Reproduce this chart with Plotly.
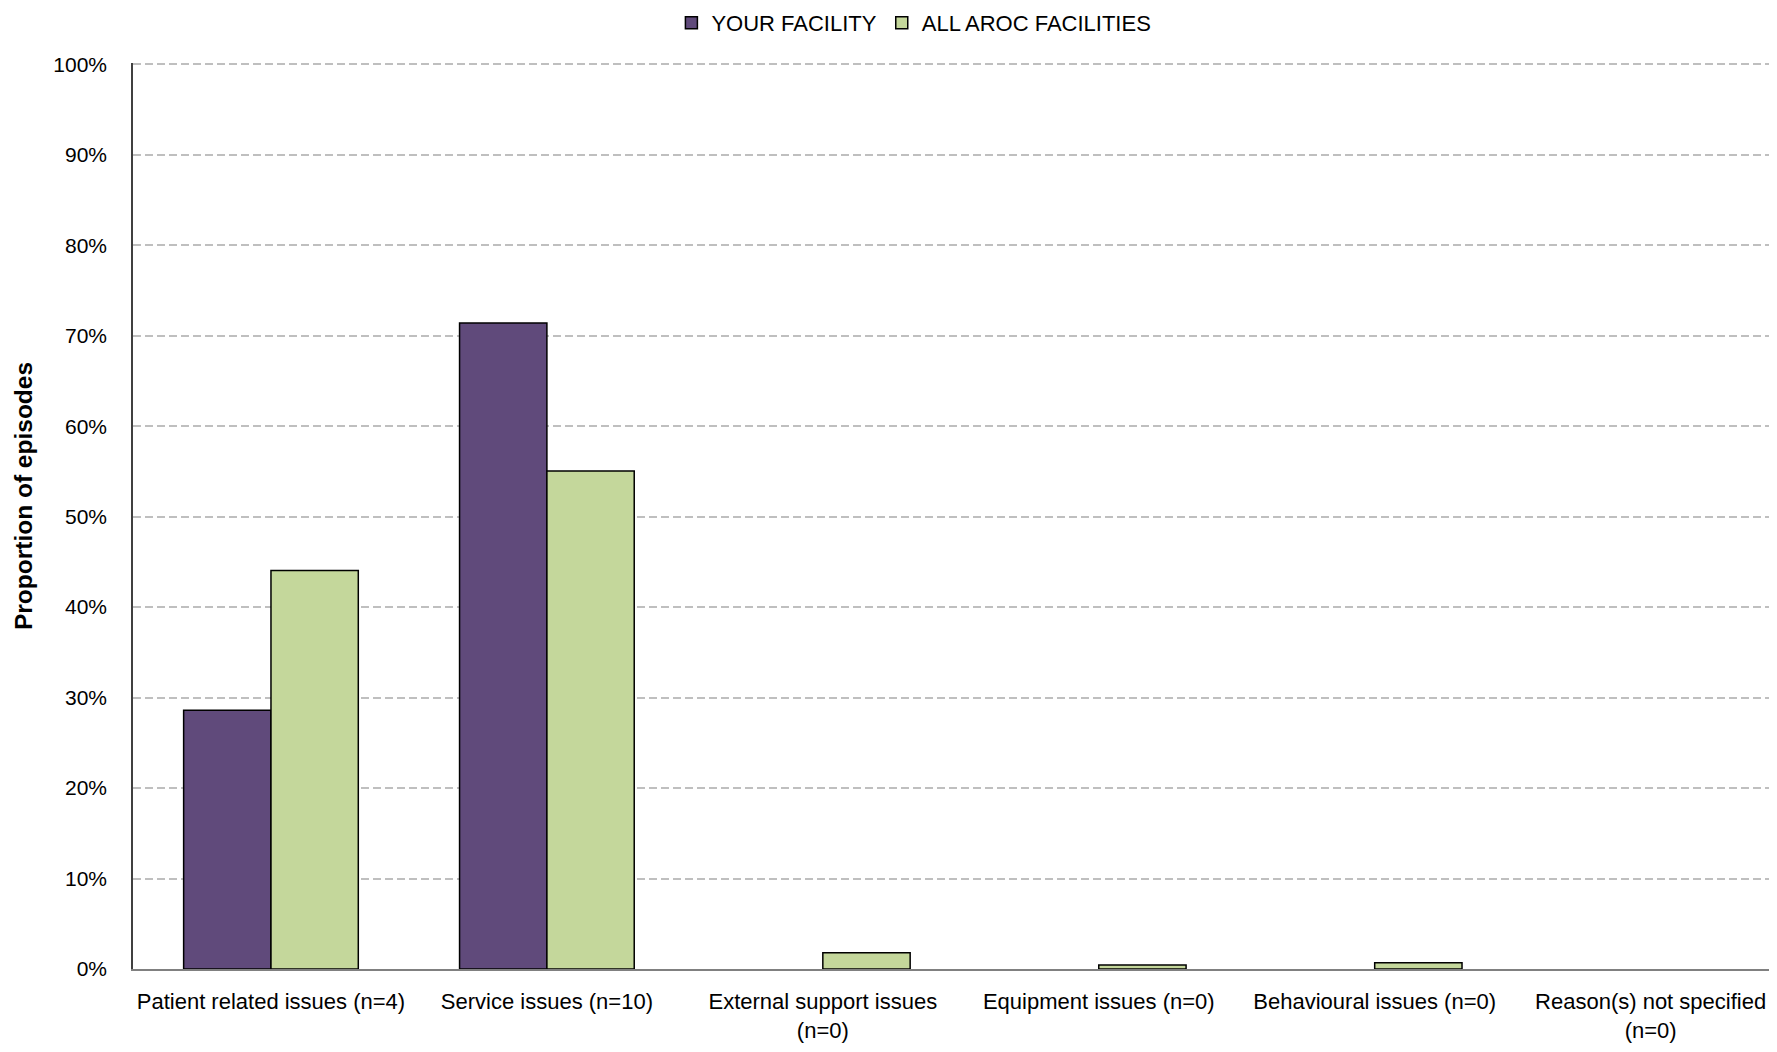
import plotly.graph_objects as go

categories = [
    "Patient related issues (n=4)",
    "Service issues (n=10)",
    "External support issues<br>(n=0)",
    "Equipment issues (n=0)",
    "Behavioural issues (n=0)",
    "Reason(s) not specified<br>(n=0)",
]
your_facility = [28.6, 71.4, 0.0, 0.0, 0.0, 0.0]
all_aroc = [44.05, 55.05, 1.8, 0.45, 0.7, 0.0]
y_ticks = [0, 10, 20, 30, 40, 50, 60, 70, 80, 90, 100]
y_tick_labels = [f"{t}%" for t in y_ticks]

FONT = "Liberation Sans Narrow, Arial Narrow, Liberation Sans, Arial"


def outline_widths(values):
    return [1.5 if v > 0 else 0 for v in values]


fig = go.Figure()
fig.add_trace(go.Bar(
    name="YOUR FACILITY", x=categories, y=your_facility,
    marker=dict(color="#604A7B", line=dict(color="#000000", width=outline_widths(your_facility))),
))
fig.add_trace(go.Bar(
    name="ALL AROC FACILITIES", x=categories, y=all_aroc,
    marker=dict(color="#C4D79B", line=dict(color="#000000", width=outline_widths(all_aroc))),
))

fig.update_layout(
    width=1769, height=1044,
    margin=dict(l=125, r=0, t=55, b=83),
    paper_bgcolor="white", plot_bgcolor="white",
    barmode="group", bargap=0.367, bargroupgap=0,
    font=dict(family=FONT, size=21, color="#000000"),
    showlegend=True,
    legend=dict(orientation="h", x=0.475, xanchor="center",
                yref="container", y=0.9856, yanchor="middle",
                font=dict(size=22), itemwidth=30, traceorder="normal"),
    annotations=[dict(
        text="<b>Proportion of episodes</b>", textangle=-90,
        xref="paper", yref="paper", x=-0.0669, y=0.522,
        xanchor="center", yanchor="middle", showarrow=False,
        font=dict(size=24.5, color="#000000"),
    )],
)
fig.update_yaxes(
    range=[0, 100.15], tickvals=y_ticks, ticktext=y_tick_labels,
    showgrid=True, gridcolor="#BFBFBF", griddash="8px,4px", gridwidth=1.5,
    showline=True, linecolor="#404040", linewidth=1.5,
    ticks="", ticklabelstandoff=20,
    zeroline=False, automargin=False,
    tickfont=dict(size=21),
)
fig.update_xaxes(
    range=[-0.5, 5.458],
    showline=True, linecolor="#808080", linewidth=2,
    ticks="", showgrid=False, automargin=False,
    ticklabelstandoff=12, tickfont=dict(size=22),
)

fig.write_html("out.html")
